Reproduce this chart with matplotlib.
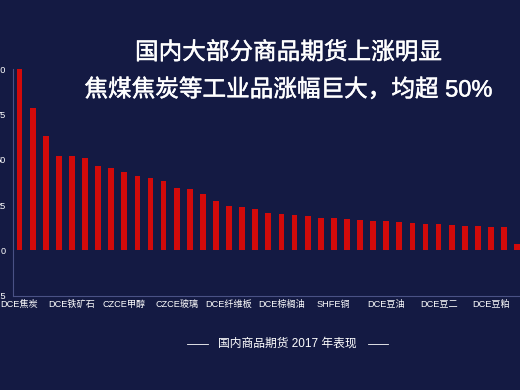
import matplotlib
matplotlib.use("Agg")
import matplotlib.pyplot as plt
import matplotlib.patheffects as pe
from matplotlib.lines import Line2D

plt.rcParams['font.family'] = ['Liberation Sans', 'Noto Sans CJK SC', 'DejaVu Sans']

# 2017 change (%) per contract, sorted high -> low
changes = [100.0, 78.5, 62.9, 51.9, 51.9, 50.9, 46.5, 45.4, 43.2, 41.0,
           39.9, 38.1, 34.4, 34.0, 31.3, 27.0, 24.7, 23.9, 22.6, 20.4,
           20.0, 19.5, 18.8, 17.8, 17.7, 17.3, 16.9, 16.2, 16.0, 15.5,
           15.3, 14.7, 14.5, 14.0, 13.6, 13.4, 13.1, 12.7, 3.7, 3.0, 2.5]
tick_pos = [0, 4, 8, 12, 16, 20, 24, 28, 32, 36, 40]
tick_labels = ["DCE焦炭", "DCE铁矿石", "CZCE甲醇", "CZCE玻璃", "DCE纤维板",
               "DCE棕榈油", "SHFE铜", "DCE豆油", "DCE豆二", "DCE豆粕", "CZCE白糖"]
y_ticks = [-25, 0, 25, 50, 75, 100]

bg = "#141a43"
fig = plt.figure(figsize=(5.2, 3.9), dpi=100, facecolor=bg)
ax = fig.add_axes([0.025, 0.2423, 1.035, 0.58], facecolor=bg)

ax.bar(range(len(changes)), changes, width=0.44, color="#d20a0a")
ax.set_xlim(-0.5, 40.6)
ax.set_ylim(-25, 100)
ax.set_yticks(y_ticks)
ax.set_xticks(tick_pos)
ax.set_xticklabels(tick_labels)
ax.tick_params(axis="both", length=0, colors="white", labelsize=6.6)
ax.tick_params(axis="y", pad=5)
ax.tick_params(axis="x", pad=3)
for s in ["top", "right"]:
    ax.spines[s].set_visible(False)
for s in ["left", "bottom"]:
    ax.spines[s].set_color("#4a5185")
    ax.spines[s].set_linewidth(0.8)

thick = [pe.withStroke(linewidth=0.35, foreground="white")]
fig.text(0.555, 0.864, "国内大部分商品期货上涨明显", color="white",
         fontsize=17, ha="center", va="center", path_effects=thick)
fig.text(0.555, 0.769, "焦煤焦炭等工业品涨幅巨大，均超 50%", color="white",
         fontsize=17, ha="center", va="center", path_effects=thick)

fig.text(0.553, 0.118, "国内商品期货 2017 年表现", color="white",
         fontsize=8.5, ha="center", va="center")
fig.add_artist(Line2D([0.36, 0.40], [0.118, 0.118], color="white", lw=0.6))
fig.add_artist(Line2D([0.708, 0.746], [0.118, 0.118], color="white", lw=0.6))

fig.savefig("out.png", dpi=100, facecolor=bg)
